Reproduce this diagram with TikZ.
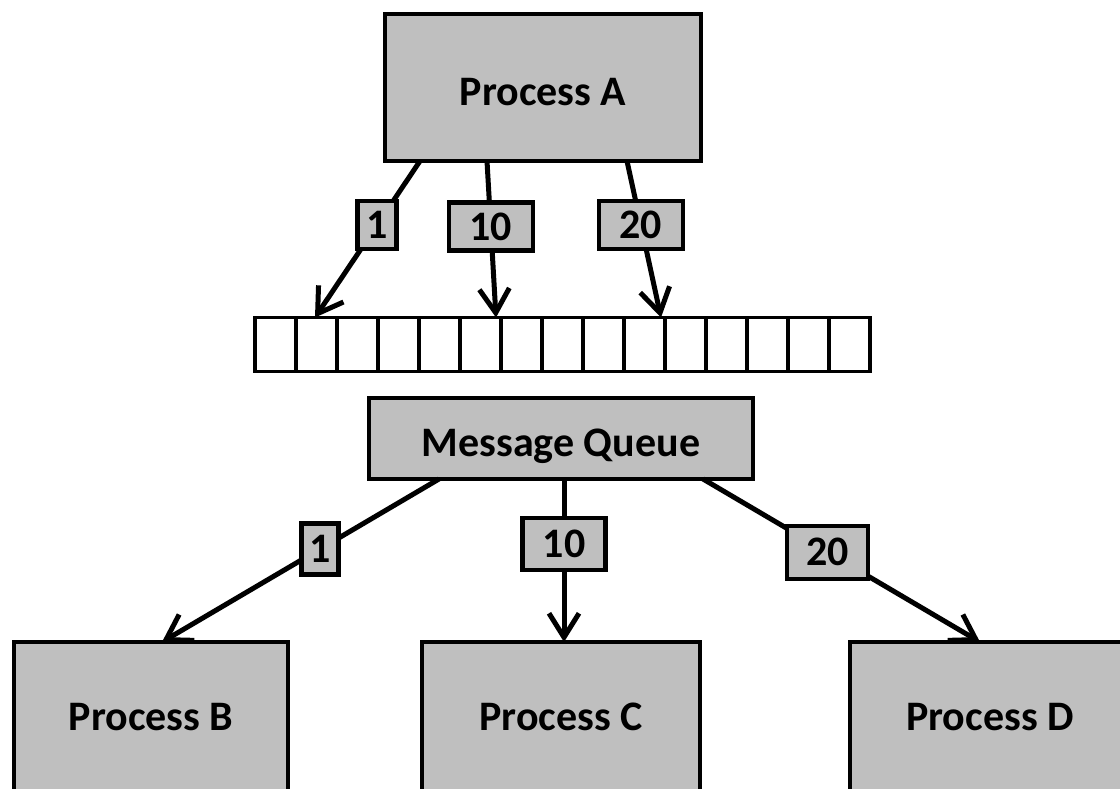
\documentclass[tikz,border=0pt]{standalone}
\usepackage{fontspec}
\setmainfont{Carlito}
\usetikzlibrary{arrows.meta,calc}
\definecolor{boxgray}{RGB}{191,191,191}
\begin{document}
\begin{tikzpicture}[x=1pt,y=-1pt,
  txt/.style={font=\fontsize{42}{50}\selectfont\bfseries},
  box/.style={txt,draw=black,fill=boxgray,line width=4.5pt,inner sep=0pt,outer sep=0pt},
  low/.style={text height=35pt,text depth=0pt},
  lbl/.style={box,minimum height=48pt},
  cell/.style={draw=black,fill=white,line width=3.5pt,minimum width=41pt,minimum height=54pt,inner sep=0pt,outer sep=0pt},
  conn/.style={line width=5pt,-{Straight Barb[length=24pt,width=30pt]}}]
\useasboundingbox (0,0) rectangle (1120,788);
\clip (0,0) rectangle (1120,788);
\fill[white] (0,0) rectangle (1120,788);

\node[box,low,minimum width=316pt,minimum height=147pt] (A) at (543,87.5) {Process A};
\foreach \i in {1,...,15} \node[cell] (q\i) at ({234.5+41*\i},344.5) {};
\node[box,low,minimum width=384pt,minimum height=81pt] (mq) at (561,438.5) {Message Queue};
\node[box,minimum width=274pt,minimum height=150pt] (B) at (151,717) {Process B};
\node[box,minimum width=278pt,minimum height=150pt] (C) at (561,717) {Process C};
\node[box,minimum width=280pt,minimum height=150pt] (D) at (990,717) {Process D};

\draw[conn] ($(A.south west)+(35,0)$) -- ($(q2.north west)+(19,0)$) node[lbl,pos=0.41,minimum width=39pt] {1};
\draw[conn] ($(A.south west)+(102,0)$) -- ($(q6.north east)+(-5,0)$) node[lbl,pos=0.42,minimum width=84pt] {10};
\draw[conn] ($(A.south west)+(242,0)$) -- ($(q10.north east)+(-4,0)$) node[lbl,pos=0.41,minimum width=84pt] {20};

\draw[conn] ($(mq.south west)+(70,0)$) -- ($(B.north west)+(148,0)$) node[lbl,pos=0.43,minimum width=37pt,minimum height=51pt] {1};
\draw[conn] ($(mq.south)+(3,0)$) -- ($(C.north)+(3,0)$) node[lbl,pos=0.4,minimum width=83pt,minimum height=52pt] {10};
\draw[conn] ($(mq.south east)+(-50,0)$) -- ($(D.north west)+(130,0)$) node[lbl,pos=0.45,minimum width=81pt,minimum height=53pt] {20};
\end{tikzpicture}
\end{document}
